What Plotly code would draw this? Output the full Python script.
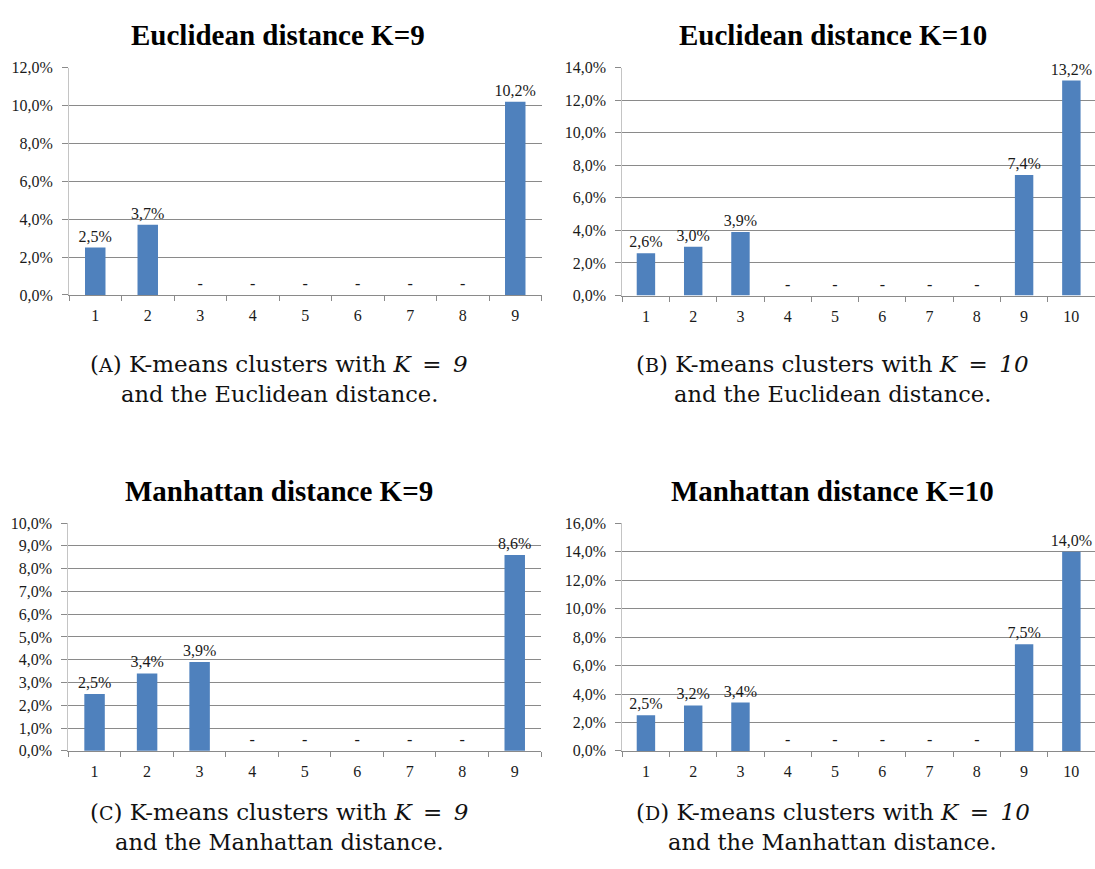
import plotly.graph_objects as go

# Cluster share (%) per cluster id for each K-means run
clusters_k9 = ["1", "2", "3", "4", "5", "6", "7", "8", "9"]
clusters_k10 = ["1", "2", "3", "4", "5", "6", "7", "8", "9", "10"]

euclid_k9 = [2.5, 3.7, 0, 0, 0, 0, 0, 0, 10.2]
euclid_k10 = [2.6, 3.0, 3.9, 0, 0, 0, 0, 0, 7.4, 13.2]
manhattan_k9 = [2.5, 3.4, 3.9, 0, 0, 0, 0, 0, 8.6]
manhattan_k10 = [2.5, 3.2, 3.4, 0, 0, 0, 0, 0, 7.5, 14.0]

chart_titles = ["Euclidean distance K=9", "Euclidean distance K=10",
                "Manhattan distance K=9", "Manhattan distance K=10"]
y_max = [12, 14, 10, 16]
y_step = [2, 2, 1, 2]

W, H = 1095, 869
BAR = "#4F81BD"
GRID = "#8a8a8a"
TICKFONT = dict(family="Liberation Serif", size=16, color="#1a1a1a")


def px_x(v):
    return v / W


def px_y(v):
    return 1 - v / H


# plot areas in pixels: (left, right, top, bottom)
boxes = [
    (69, 541.5, 60.7, 292.7),
    (622.3, 1095, 60.7, 293.3),
    (68.3, 541, 525.3, 757.7),
    (622.3, 1095, 525.7, 757.7),
]

series = [
    (clusters_k9, euclid_k9),
    (clusters_k10, euclid_k10),
    (clusters_k9, manhattan_k9),
    (clusters_k10, manhattan_k10),
]


def label(v):
    if v == 0:
        return "-"
    return f"{v:.1f}".replace(".", ",") + "%"


fig = go.Figure()
layout = {}
for i, ((cats, vals), (l, r, t, b)) in enumerate(zip(series, boxes)):
    n = "" if i == 0 else str(i + 1)
    fig.add_trace(go.Bar(
        x=cats, y=vals,
        xaxis="x" + n, yaxis="y" + n,
        marker=dict(color=BAR, line=dict(width=0)),
        text=[label(v) for v in vals],
        textposition="outside",
        textfont=dict(family="Liberation Serif", size=16, color="#1a1a1a"),
        constraintext="none",
        cliponaxis=False,
        showlegend=False,
    ))
    layout["xaxis" + n] = dict(
        domain=[px_x(l), min(px_x(r), 1.0)],
        anchor="y" + n,
        type="category",
        tickson="boundaries",
        ticks="outside", ticklen=5, tickcolor=GRID, tickwidth=1,
        showline=True, linecolor=GRID, linewidth=1,
        showgrid=False, zeroline=False,
        ticklabelstandoff=6,
        tickfont=TICKFONT, fixedrange=True,
    )
    layout["yaxis" + n] = dict(
        domain=[px_y(b), px_y(t)],
        anchor="x" + n,
        range=[0, y_max[i]], dtick=y_step[i], tick0=0,
        tickformat=".1f", ticksuffix="%",
        ticks="outside", ticklen=6, tickcolor=GRID, tickwidth=1,
        showline=True, linecolor="#c4c4c4", linewidth=1,
        showgrid=True, gridcolor=GRID, gridwidth=1,
        zeroline=False,
        ticklabelstandoff=6,
        tickfont=TICKFONT, fixedrange=True,
    )

annotations = []
title_pos = [(278, 27.5), (833, 27.5), (279, 493), (833, 493)]
for (cx, cy), txt in zip(title_pos, chart_titles):
    annotations.append(dict(
        x=px_x(cx), y=px_y(cy), xref="paper", yref="paper",
        xanchor="center", yanchor="middle", showarrow=False,
        text="<b>" + txt + "</b>",
        font=dict(family="Liberation Serif", size=29, color="#000000"),
    ))

sc = '<span style="font-size:19px">{}</span>'
eq = "<i>K</i>\u2002=\u2002<i>{}</i>"
captions = [
    ((279, 363, 394), "(" + sc.format("A") + ") K-means clusters with " + eq.format("9"),
     "and the Euclidean distance."),
    ((833, 363, 394), "(" + sc.format("B") + ") K-means clusters with " + eq.format("10"),
     "and the Euclidean distance."),
    ((279, 820, 851), "(" + sc.format("C") + ") K-means clusters with " + eq.format("9"),
     "and the Manhattan distance."),
    ((833, 820, 851), "(" + sc.format("D") + ") K-means clusters with " + eq.format("10"),
     "and the Manhattan distance."),
]
for (cx, y1, y2), line1, line2 in captions:
    for yy, txt, fs in ((y1, line1, 23), (y2, line2, 22.5)):
        annotations.append(dict(
            x=px_x(cx), y=px_y(yy), xref="paper", yref="paper",
            xanchor="center", yanchor="middle", showarrow=False,
            text=txt,
            font=dict(family="DejaVu Serif", size=fs, color="#111111"),
        ))

fig.update_layout(
    width=W, height=H,
    margin=dict(l=0, r=0, t=0, b=0),
    paper_bgcolor="white", plot_bgcolor="white",
    separators=",.",
    bargap=0.61,
    annotations=annotations,
    **layout,
)

fig.write_html("out.html", config={"displayModeBar": False})
